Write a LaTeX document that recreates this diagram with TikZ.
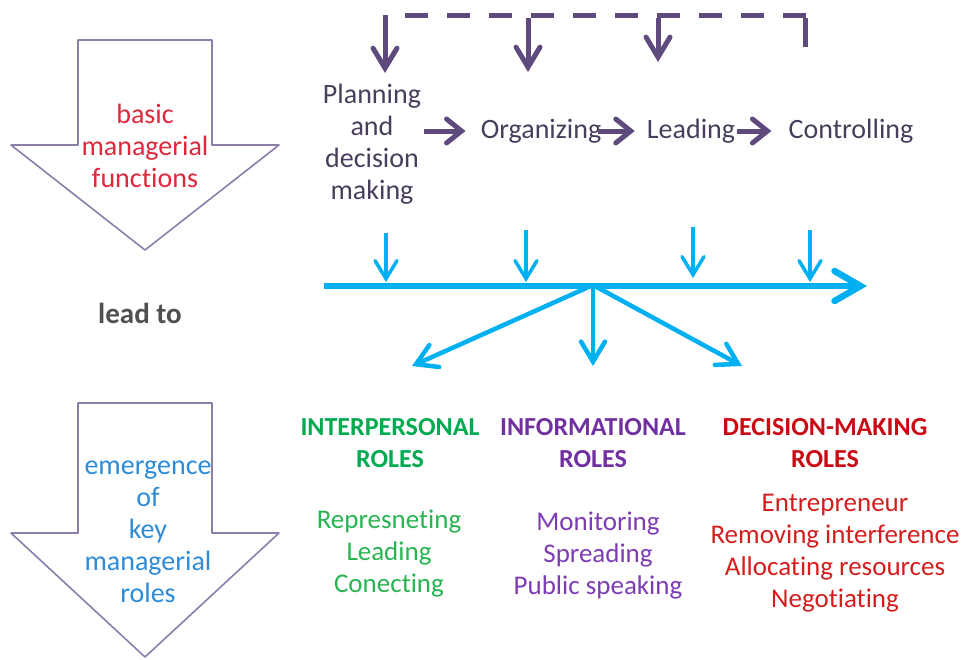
\documentclass[tikz,border=0pt]{standalone}
\usepackage{fontspec}
\setmainfont{Carlito}[Ligatures=NoCommon]
\usetikzlibrary{arrows.meta}
\definecolor{outl}{RGB}{140,125,170}
\definecolor{basicred}{RGB}{222,40,60}
\definecolor{keyblue}{RGB}{45,140,215}
\definecolor{flowpurple}{RGB}{95,74,126}
\definecolor{flowtext}{RGB}{72,62,92}
\definecolor{cyanline}{RGB}{0,176,240}
\definecolor{leadgrey}{RGB}{80,80,80}
\definecolor{rolegreen}{RGB}{0,170,80}
\definecolor{itemgreen}{RGB}{40,180,80}
\definecolor{rolepurple}{RGB}{112,48,160}
\definecolor{itempurple}{RGB}{125,60,180}
\definecolor{rolered}{RGB}{200,10,20}
\definecolor{itemred}{RGB}{212,30,30}
\begin{document}
\begin{tikzpicture}[x=1pt,y=-1pt,
  txt/.style={align=center,inner sep=0pt,font=\fontsize{28}{32}\selectfont},
  item/.style={align=center,inner sep=0pt,font=\fontsize{27}{32}\selectfont},
  head/.style={align=center,inner sep=0pt,font=\fontsize{26}{32}\selectfont\bfseries},
  bigarrow/.style={draw=outl,line width=1.6pt,fill=white,line join=round},
  flow/.style={draw=flowpurple,line width=5pt,-{Straight Barb[length=15pt,width=24pt,line cap=round]}},
  fb/.style={draw=flowpurple,line width=5pt,-{Straight Barb[length=20pt,width=24pt,line cap=round]}},
  fbline/.style={draw=flowpurple,line width=5pt},
  fbdash/.style={draw=flowpurple,line width=5pt,dash pattern=on 23pt off 19pt},
  down/.style={draw=cyanline,line width=3.5pt,-{Straight Barb[length=18pt,width=22pt,line cap=round]}},
  mainline/.style={draw=cyanline,line width=6.5pt,-{Straight Barb[length=26pt,width=30pt,line cap=round]}},
  branch/.style={draw=cyanline,line width=4.5pt,-{Straight Barb[length=20pt,width=24pt,line cap=round]}}
]
\useasboundingbox (0,0) rectangle (963,659);

% big arrows
\draw[bigarrow] (78,40) -- (212,40) -- (212,145) -- (279,145) -- (145,250) -- (11,145) -- (78,145) -- cycle;
\node[txt,text=basicred] (basic) at (145,146) {basic\\managerial\\functions};

\node[font=\fontsize{29}{32}\selectfont\bfseries,text=leadgrey,inner sep=0pt] (lead) at (140,313) {lead to};

\draw[bigarrow] (78,403) -- (212,403) -- (212,533) -- (279,533) -- (145,657) -- (11,533) -- (78,533) -- cycle;
\node[txt,text=keyblue] (emerg) at (148,532) {emergence\\of\\key\\managerial\\roles};

% managerial functions
\node[txt,text=flowtext] (plan) at (372,144) {Planning\\and\\decision\\making};
\node[txt,text=flowtext] (org) at (541,131) {Organizing};
\node[txt,text=flowtext] (leadf) at (691,131) {Leading};
\node[txt,text=flowtext] (ctrl) at (851,131) {Controlling};

\draw[flow] ([xshift=3pt]plan.east |- org.west) -- ([xshift=-15pt]org.west);
\draw[flow] ([xshift=-3pt]org.east) -- ([xshift=-12pt]leadf.west);
\draw[flow] ([xshift=2pt]leadf.east) -- ([xshift=-17pt]ctrl.west);

% feedback loop
\coordinate (fbR) at (805,47);
\coordinate (fbTR) at (805,15);
\coordinate (fbTL) at (405,15);
\coordinate (fb1) at (385,15);
\coordinate (fb2) at (528,15);
\coordinate (fb3) at (658,15);
\draw[fbdash] (fbTL) -- ([xshift=2.5pt]fbTR);
\draw[fbline] (fbR) -- ([yshift=-2.5pt]fbTR);
\draw[fb] (fb1) -- (fb1 |- 0,73);
\draw[fb] ([yshift=-2.5pt]fb2) -- (fb2 |- 0,72);
\draw[fb] ([yshift=-2.5pt]fb3) -- (fb3 |- 0,62);

% blue timeline
\coordinate (bl) at (324,286);
\coordinate (br) at (867,286);
\coordinate (bc) at (593,285);
\draw[mainline] (bl) -- (br);
\coordinate (d1) at (386,233);
\coordinate (d2) at (526,230);
\coordinate (d3) at (693,227);
\coordinate (d4) at (810,230);
\draw[down] (d1) -- (d1 |- 0,282);
\draw[down] (d2) -- (d2 |- 0,282);
\draw[down] (d3) -- (d3 |- 0,278);
\draw[down] (d4) -- (d4 |- 0,282);

% roles
\node[head,text=rolegreen] (inter) at (390,443) {INTERPERSONAL\\ROLES};
\node[head,text=rolepurple] (info) at (593,443) {INFORMATIONAL\\ROLES};
\node[head,text=rolered] (dec) at (825,443) {DECISION-MAKING\\ROLES};

\coordinate (tipL) at (412,366);
\coordinate (tipC) at (593,366);
\coordinate (tipR) at (742,366);
\draw[branch] (bc) -- (tipL);
\draw[branch] (bc) -- (tipC);
\draw[branch] (bc) -- (tipR);

\node[item,text=itemgreen] (gitems) at (389,554) {Represneting\\Leading\\Conecting};
\node[item,text=itempurple] (pitems) at (598,556) {Monitoring\\Spreading\\Public speaking};
\node[item,text=itemred] (ritems) at (835,553) {Entrepreneur\\Removing interference\\Allocating resources\\Negotiating};
\end{tikzpicture}
\end{document}
